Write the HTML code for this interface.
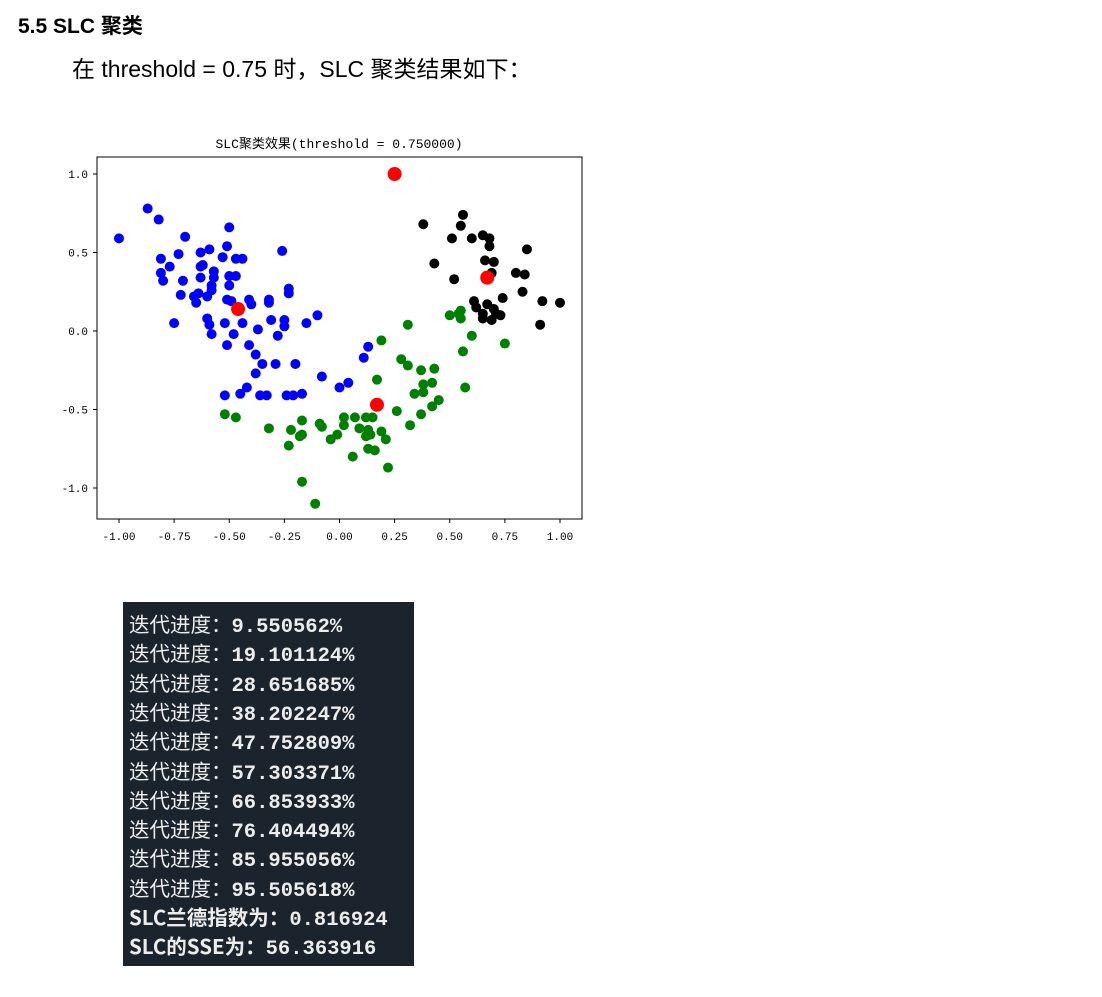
<!DOCTYPE html>
<html><head><meta charset="utf-8">
<style>
body{margin:0;width:1102px;height:997px;background:#fff;position:relative;overflow:hidden;font-family:"Liberation Sans","Noto Sans CJK SC",sans-serif;}
.h{position:absolute;left:18px;top:10px;font-size:21px;font-weight:bold;color:#000;}
.p{position:absolute;left:72px;top:50px;font-size:23px;color:#000;}
.con{position:absolute;left:123px;top:602px;width:291px;height:364px;background:#1b242d;}
.con div{position:absolute;left:6px;font-size:20.5px;color:#ececec;font-family:"Liberation Mono","Noto Sans CJK SC",monospace;font-weight:bold;white-space:nowrap;}
.con span{font-weight:normal;font-family:"Noto Sans CJK SC",sans-serif;}
</style></head><body>
<div class="h">5.5 SLC 聚类</div>
<div class="p">在 threshold = 0.75 时，SLC 聚类结果如下：</div>
<svg id="chart" width="1102" height="560" style="position:absolute;left:0;top:0"></svg>
<div class="con" id="con"></div>
<script>
const blueX=[-1.00,-0.87,-0.82,-0.50,-0.70,-0.26,-0.81,-0.73,-0.63,-0.59,-0.51,-0.53,-0.47,-0.44,-0.77,-0.63,-0.62,-0.57,-0.81,-0.80,-0.71,-0.63,-0.57,-0.50,-0.47,-0.58,-0.50,-0.23,-0.23,-0.72,-0.66,-0.64,-0.65,-0.60,-0.58,-0.51,-0.49,-0.41,-0.40,-0.32,-0.32,-0.10,-0.15,-0.25,-0.25,-0.31,-0.37,-0.28,-0.44,-0.52,-0.60,-0.59,-0.75,-0.58,-0.48,-0.51,-0.41,-0.38,-0.35,-0.29,-0.20,-0.38,-0.08,-0.42,-0.45,-0.52,-0.36,-0.33,-0.24,-0.21,-0.17,0.00,0.04,0.13,0.11];
const blueY=[0.59,0.78,0.71,0.66,0.60,0.51,0.46,0.49,0.50,0.52,0.54,0.47,0.46,0.46,0.41,0.41,0.42,0.38,0.37,0.32,0.32,0.34,0.34,0.35,0.35,0.29,0.29,0.27,0.24,0.23,0.22,0.24,0.18,0.22,0.26,0.20,0.19,0.20,0.17,0.20,0.18,0.10,0.05,0.07,0.03,0.07,0.01,-0.03,0.05,0.05,0.08,0.04,0.05,-0.02,-0.02,-0.09,-0.09,-0.15,-0.21,-0.21,-0.21,-0.27,-0.29,-0.36,-0.40,-0.41,-0.41,-0.41,-0.41,-0.41,-0.40,-0.36,-0.33,-0.10,-0.17];
const greenX=[-0.52,-0.47,-0.32,-0.22,-0.17,-0.18,-0.17,-0.23,-0.17,-0.11,-0.09,-0.08,-0.04,-0.01,0.02,0.07,0.02,0.12,0.15,0.09,0.13,0.12,0.14,0.19,0.21,0.13,0.16,0.06,0.22,0.26,0.32,0.37,0.42,0.45,0.34,0.38,0.38,0.42,0.37,0.43,0.28,0.31,0.17,0.19,0.31,0.57,0.56,0.60,0.75,0.50,0.55,0.55,0.54];
const greenY=[-0.53,-0.55,-0.62,-0.63,-0.57,-0.67,-0.66,-0.73,-0.96,-1.10,-0.59,-0.61,-0.69,-0.66,-0.55,-0.55,-0.60,-0.55,-0.55,-0.62,-0.63,-0.67,-0.66,-0.64,-0.69,-0.75,-0.76,-0.80,-0.87,-0.51,-0.60,-0.53,-0.48,-0.44,-0.40,-0.39,-0.34,-0.33,-0.25,-0.24,-0.18,-0.22,-0.31,-0.06,0.04,-0.36,-0.13,-0.03,-0.08,0.10,0.13,0.08,0.11];
const blackX=[0.38,0.56,0.55,0.51,0.60,0.65,0.68,0.68,0.85,0.43,0.66,0.70,0.52,0.80,0.84,0.69,0.83,0.74,0.92,1.00,0.91,0.61,0.62,0.67,0.70,0.65,0.65,0.69,0.73,0.71];
const blackY=[0.68,0.74,0.67,0.59,0.59,0.61,0.59,0.54,0.52,0.43,0.45,0.44,0.33,0.37,0.36,0.37,0.25,0.21,0.19,0.18,0.04,0.19,0.15,0.17,0.14,0.11,0.08,0.07,0.10,0.11];
const centerX=[0.25,0.67,-0.46,0.17];
const centerY=[1.00,0.34,0.14,-0.47];
const xTicks=[-1,-0.75,-0.5,-0.25,0,0.25,0.5,0.75,1];
const xTickLabels=["-1.00","-0.75","-0.50","-0.25","0.00","0.25","0.50","0.75","1.00"];
const yTicks=[1,0.5,0,-0.5,-1];
const yTickLabels=["1.0","0.5","0.0","-0.5","-1.0"];
const NS='http://www.w3.org/2000/svg';
const svg=document.getElementById('chart');
const X=v=>339.5+220.5*v, Y=v=>331-157*v;
function mk(t,a){const e=document.createElementNS(NS,t);for(const k in a)e.setAttribute(k,a[k]);svg.appendChild(e);return e;}
const frame=mk('rect',{x:97,y:157,width:485,height:362,fill:'none',stroke:'#000','stroke-width':1});


const tf='"Liberation Mono","Noto Sans CJK SC",monospace';
xTicks.forEach((v,i)=>{const l=mk('line',{x1:X(v),x2:X(v),y1:519,y2:523,stroke:'#000'});


const t=mk('text',{x:X(v),y:540,'font-size':11,'text-anchor':'middle','font-family':tf});t.textContent=xTickLabels[i];

});
yTicks.forEach((v,i)=>{const l=mk('line',{x1:93,x2:97,y1:Y(v),y2:Y(v),stroke:'#000'});


const t=mk('text',{x:88,y:Y(v)+4,'font-size':11,'text-anchor':'end','font-family':tf});t.textContent=yTickLabels[i];

});
const title=mk('text',{x:339,y:148,'font-size':13,'text-anchor':'middle','font-family':'"Liberation Mono","Noto Sans CJK SC",monospace'});
title.textContent='SLC聚类效果(threshold = 0.750000)';


function pts(xs,ys,col,r,name){xs.forEach((v,i)=>{const c=mk('circle',{cx:X(v),cy:Y(ys[i]),r:r,fill:col});

});}
pts(blueX,blueY,'#0000ff',5,'blue-cluster-point');
pts(greenX,greenY,'#008000',5,'green-cluster-point');
pts(blackX,blackY,'#000000',5,'black-cluster-point');
pts(centerX,centerY,'#ff0000',7,'cluster-center');
const labels=["迭代进度：","迭代进度：","迭代进度：","迭代进度：","迭代进度：","迭代进度：","迭代进度：","迭代进度：","迭代进度：","迭代进度：","SLC兰德指数为：","SLC的SSE为："];
const vals=["9.550562%","19.101124%","28.651685%","38.202247%","47.752809%","57.303371%","66.853933%","76.404494%","85.955056%","95.505618%","0.816924","56.363916"];
const con=document.getElementById('con');
labels.forEach((s,i)=>{const d=document.createElement('div');d.style.top=(6+i*29.3)+'px';
const sp=document.createElement('span');sp.textContent=s;
if(i>=10){sp.style.fontWeight='bold';}
d.appendChild(sp);d.appendChild(document.createTextNode(vals[i]));


con.appendChild(d);});
</script>
</body></html>
